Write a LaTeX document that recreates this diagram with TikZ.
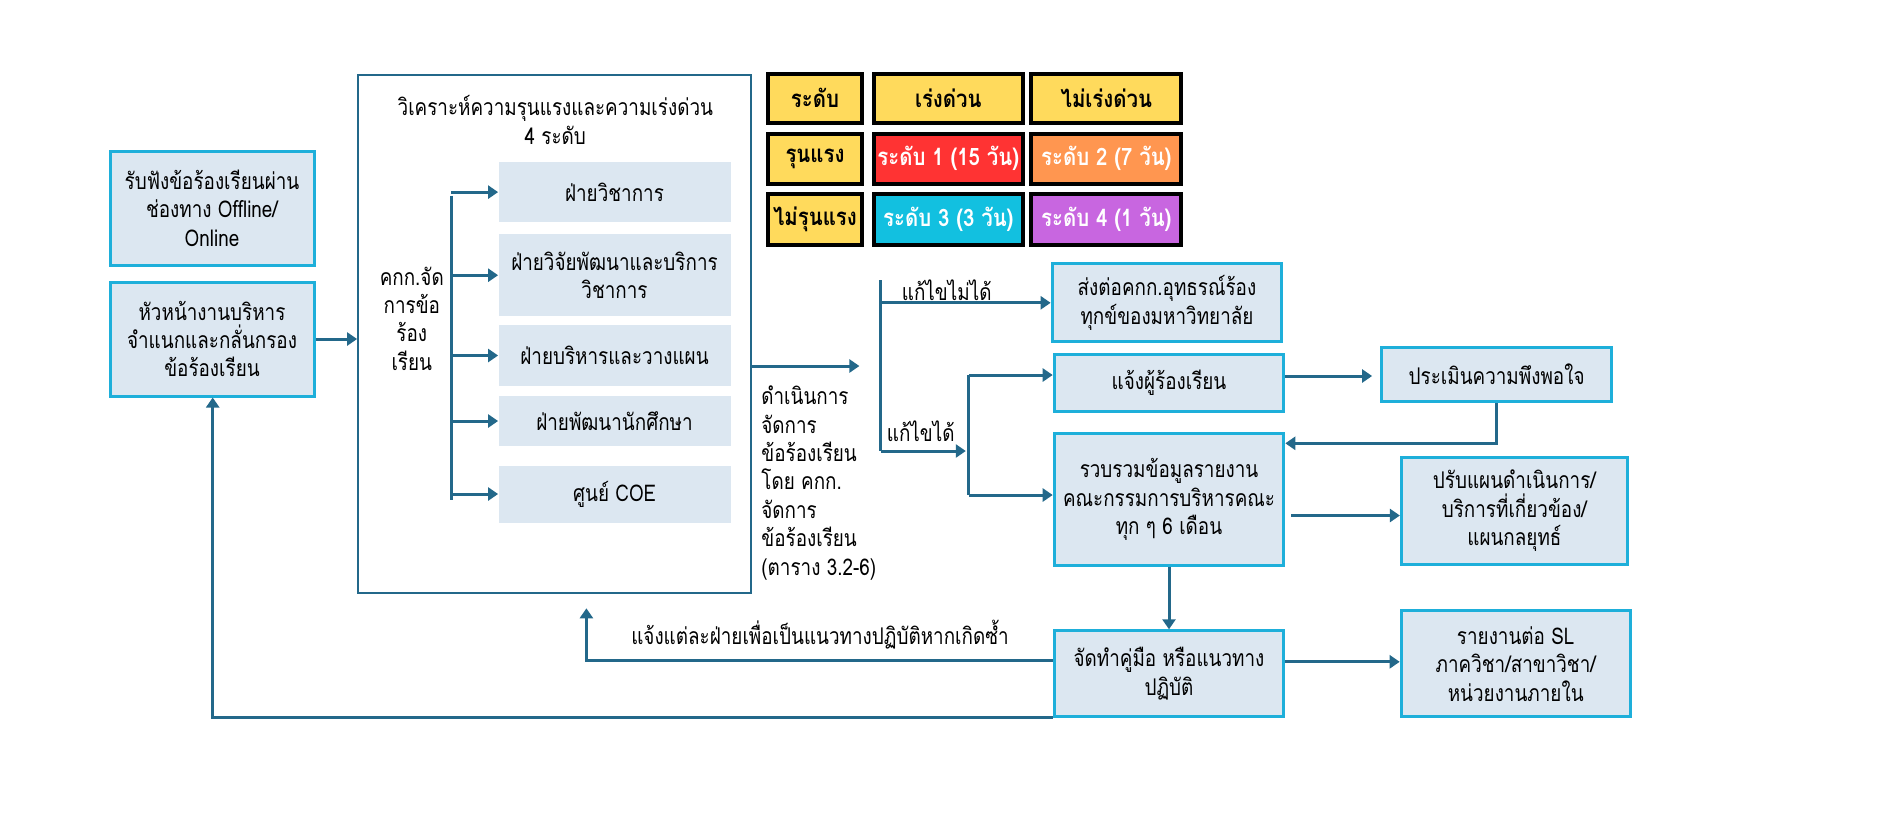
\documentclass[tikz,border=0pt]{standalone}
\usepackage{fontspec}
\newfontfamily\thai[Script=Thai, FakeStretch=0.82]{Loma}
\newfontfamily\thaib[Script=Thai, FakeStretch=0.85]{Loma}
\usetikzlibrary{arrows.meta}
\definecolor{fillc}{HTML}{DCE7F1}
\definecolor{boxc}{HTML}{1EAFDA}
\definecolor{linec}{HTML}{23688A}
\definecolor{ylw}{HTML}{FFDA5C}
\definecolor{rd}{HTML}{FF3333}
\definecolor{org}{HTML}{FF9650}
\definecolor{cyn}{HTML}{12C0E0}
\definecolor{prp}{HTML}{C866E0}
\tikzset{
  txt/.style={font=\thai\fontsize{11.5}{14.2}\selectfont, align=center, inner sep=0pt},
  box/.style={txt, draw=boxc, line width=1.5pt, fill=fillc},
  sub/.style={txt, fill=fillc},
  cell/.style={draw=black, line width=2pt, inner sep=0pt, font=\thaib\bfseries\fontsize{12}{14}\selectfont},
  conn/.style={draw=linec, line width=1.5pt},
  arr/.style={conn, -{Triangle[length=5pt,width=6.5pt]}},
}
\begin{document}
\begin{tikzpicture}[x=0.5pt,y=-0.5pt]
\useasboundingbox (0,0) rectangle (1890,827);
% left boxes
\node[box, minimum width=102pt, minimum height=57pt] (b1) at (212,208) {รับฟังข้อร้องเรียนผ่าน\\ช่องทาง Offline/\\Online};
\node[box, minimum width=102pt, minimum height=57pt] (b2) at (212,339) {หัวหน้างานบริหาร\\จำแนกและกลั่นกรอง\\ข้อร้องเรียน};
% big box
\node[draw=linec, line width=1pt, minimum width=196.5pt, minimum height=258.8pt, inner sep=0pt] (big) at (554.6,334) {};
\node[txt] (title) at (555.3,119.8) {วิเคราะห์ความรุนแรงและความเร่งด่วน\\4 ระดับ};
\node[txt] (kk) at (411.8,318.5) {คกก.จัด\\การข้อ\\ร้อง\\เรียน};
\node[sub, minimum width=116pt, minimum height=29.65pt] (s1) at (614.5,192.1) {ฝ่ายวิชาการ};
\node[sub, minimum width=116pt, minimum height=41.2pt] (s2) at (614.5,275.2) {ฝ่ายวิจัยพัฒนาและบริการ\\วิชาการ};
\node[sub, minimum width=116pt, minimum height=30.5pt] (s3) at (614.5,355.5) {ฝ่ายบริหารและวางแผน};
\node[sub, minimum width=116pt, minimum height=24.65pt] (s4) at (614.5,421) {ฝ่ายพัฒนานักศึกษา};
\node[sub, minimum width=116pt, minimum height=28.5pt] (s5) at (614.5,494) {ศูนย์ COE};
\coordinate (brT) at (451.2,195.7);
\coordinate (brB) at (451.2,500);
\draw[conn] (brT) -- (brB);
\foreach \s in {s1,s2,s3,s4,s5} \draw[arr] (brT |- \s.west) -- (\s.west);
\draw[arr] (b2.east) -- (b2.east -| big.west);
% table
\node[cell, fill=ylw, minimum width=47.3pt, minimum height=24.65pt] (t11) at (815,98.3) {ระดับ};
\node[cell, fill=ylw, minimum width=74.65pt, minimum height=24.65pt] (t12) at (948.3,98.3) {เร่งด่วน};
\node[cell, fill=ylw, minimum width=75pt, minimum height=24.65pt] (t13) at (1106.3,98.3) {ไม่เร่งด่วน};
\node[cell, fill=ylw, minimum width=47.3pt, minimum height=25.15pt] (t21) at (815,158.8) {รุนแรง};
\node[cell, fill=rd, text=white, minimum width=74.65pt, minimum height=25.15pt] (t22) at (948.3,158.8) {ระดับ 1 (15 วัน)};
\node[cell, fill=org, text=white, minimum width=75pt, minimum height=25.15pt] (t23) at (1106.3,158.8) {ระดับ 2 (7 วัน)};
\node[cell, fill=ylw, minimum width=47.3pt, minimum height=25.15pt] (t31) at (815,219.5) {ไม่รุนแรง};
\node[cell, fill=cyn, text=white, minimum width=74.65pt, minimum height=25.15pt] (t32) at (948.3,219.5) {ระดับ 3 (3 วัน)};
\node[cell, fill=prp, text=white, minimum width=75pt, minimum height=25.15pt] (t33) at (1106.3,219.5) {ระดับ 4 (1 วัน)};
% middle
\node[txt, align=left, anchor=west] (op) at (761,483) {ดำเนินการ\\จัดการ\\ข้อร้องเรียน\\โดย คกก.\\จัดการ\\ข้อร้องเรียน\\(ตาราง 3.2-6)};
\coordinate (o1) at (859.4,366);
\draw[arr] (o1 -| big.east) -- (o1);
\coordinate (vT) at (880.8,280);
\coordinate (vB) at (880.8,451);
\draw[conn] (vT) -- (vB);
% right boxes
\node[box, minimum width=114.85pt, minimum height=39pt] (st) at (1167,302.8) {ส่งต่อคกก.อุทธรณ์ร้อง\\ทุกข์ของมหาวิทยาลัย};
\node[box, minimum width=114.8pt, minimum height=28.2pt] (nj) at (1169,383) {แจ้งผู้ร้องเรียน};
\node[box, minimum width=114.8pt, minimum height=65.7pt] (rb) at (1169,499.5) {รวบรวมข้อมูลรายงาน\\คณะกรรมการบริหารคณะ\\ทุก ๆ 6 เดือน};
\node[box, minimum width=115pt, minimum height=27.3pt] (pm) at (1496.6,374.5) {ประเมินความพึงพอใจ};
\node[box, minimum width=113pt, minimum height=53.5pt] (pk) at (1514.4,511) {ปรับแผนดำเนินการ/\\บริการที่เกี่ยวข้อง/\\แผนกลยุทธ์};
\node[box, minimum width=114.75pt, minimum height=43pt] (jd) at (1169,673.8) {จัดทำคู่มือ หรือแนวทาง\\ปฏิบัติ};
\node[box, minimum width=114.5pt, minimum height=53pt] (rg) at (1515.7,663.8) {รายงานต่อ SL\\ภาควิชา/สาขาวิชา/\\หน่วยงานภายใน};
\draw[arr] (vT |- st.west) -- (st.west);
\node[txt] (l1) at (946.7,290) {แก้ไขไม่ได้};
\coordinate (h1) at (965.8,451);
\draw[arr] (vB) -- (h1);
\node[txt] (l2) at (920.7,431.7) {แก้ไขได้};
\coordinate (wT) at (968.9,375);
\coordinate (wB) at (968.9,495);
\draw[conn] (wT) -- (wB);
\draw[arr] (wT) -- (wT -| nj.west);
\draw[arr] (wB) -- (wB -| rb.west);
\coordinate (a1) at ([yshift=3.5pt]nj.east);
\draw[arr, shorten >=4pt] (a1) -- (a1 -| pm.west);
\coordinate (c2) at (1496.6,443.3);
\draw[arr] (pm.south) -- (c2) -- (c2 -| rb.east);
\coordinate (a2) at ([yshift=-8pt]rb.east);
\draw[arr] ([xshift=3pt]a2) -- (a2 -| pk.west);
\draw[arr] (rb.south) -- (jd.north);
\coordinate (a3) at ([yshift=6pt]jd.east);
\draw[arr] (a3) -- (a3 -| rg.west);
% feedback
\coordinate (up) at (586.4,608.3);
\coordinate (a4) at ([yshift=6.5pt]jd.west);
\draw[arr] (a4) -| (up);
\node[txt] (l3) at (820,635) {แจ้งแต่ละฝ่ายเพื่อเป็นแนวทางปฏิบัติหากเกิดซ้ำ};
\coordinate (lp) at (212.7,717.5);
\draw[arr] (jd.west |- lp) -- (lp) -- (lp |- b2.south);
\end{tikzpicture}
\end{document}
